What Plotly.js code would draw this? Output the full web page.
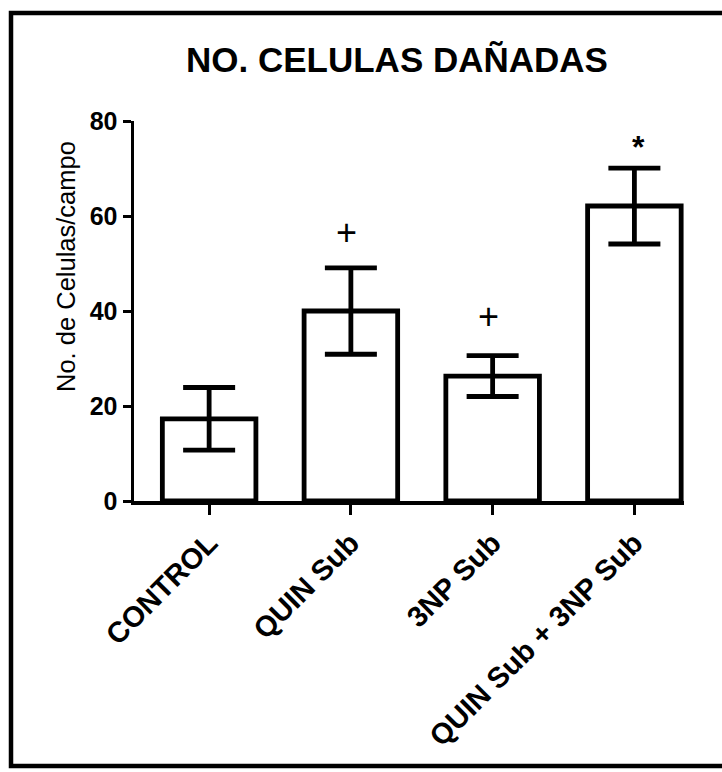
<!DOCTYPE html>
<html>
<head>
<meta charset="utf-8">
<script src="https://cdn.plot.ly/plotly-3.0.1.min.js"></script>
<style>
  html, body { margin: 0; padding: 0; background: #ffffff; }
  #chart { width: 722px; height: 772px; }
</style>
</head>
<body>
<div id="chart"></div>
<script>
// ---- data ----
const categories = ['CONTROL', 'QUIN Sub', '3NP Sub', 'QUIN Sub + 3NP Sub'];
const meanCells = [17.3, 40.0, 26.3, 62.1];
const semCells = [6.6, 9.1, 4.3, 8.0];
const sigLabels = ['', '+', '+', '*'];
const sigY = [null, 56.6, 38.8, 75.4];
const yTicks = [0, 20, 40, 60, 80];

const chartTitle = 'NO. CELULAS DAÑADAS';
const yTitle = 'No. de Celulas/campo';

// ---- layout geometry ----
const W = 722, H = 772;
const mL = 134, mR = 38, mT = 121, mB = 271;
const plotW = W - mL - mR, plotH = H - mT - mB;
const px2paperX = px => (px - mL) / plotW;
const px2paperY = py => (H - mB - py) / plotH;

const FONT = 'Liberation Sans, Arial, Helvetica, sans-serif';

const barTrace = {
  type: 'bar',
  x: categories,
  y: meanCells,
  marker: { color: '#ffffff', line: { color: '#000000', width: 4.8 } },
  error_y: { type: 'data', array: semCells, visible: true, color: '#000000', thickness: 4.8, width: 26 },
  hoverinfo: 'none',
  showlegend: false
};

const annotations = [];
categories.forEach((c, i) => {
  if (sigLabels[i]) {
    const isStar = sigLabels[i] === '*';
    annotations.push({
      x: c, y: sigY[i], xref: 'x', yref: 'y',
      text: sigLabels[i], showarrow: false,
      xanchor: 'center', yanchor: 'middle',
      xshift: isStar ? 4 : -4,
      yshift: isStar ? -4 : 0,
      font: { family: FONT, size: isStar ? 32 : 36, color: '#000000', weight: isStar ? 'bold' : 'normal' }
    });
  }
});
annotations.push({
  xref: 'paper', yref: 'paper',
  x: px2paperX(66), y: px2paperY(267),
  text: yTitle, textangle: -90, showarrow: false,
  xanchor: 'center', yanchor: 'middle',
  font: { family: FONT, size: 25.5, color: '#000000' }
});

const layout = {
  width: W, height: H,
  margin: { l: mL, r: mR, t: mT, b: mB, pad: 0 },
  paper_bgcolor: '#ffffff', plot_bgcolor: '#ffffff',
  bargap: 0.34,
  title: {
    text: chartTitle,
    x: 397 / W, xref: 'container', xanchor: 'center',
    y: 1 - 60 / H, yref: 'container', yanchor: 'middle',
    font: { family: FONT, size: 35, color: '#000000', weight: 'bold' }
  },
  xaxis: {
    type: 'category',
    range: [-0.53, 3.35],
    showline: true, linecolor: '#000000', linewidth: 3.5,
    ticks: 'outside', ticklen: 10, tickwidth: 3, tickcolor: '#000000',
    tickangle: -45,
    tickfont: { family: FONT, size: 29, color: '#000000', weight: 'bold' },
    showgrid: false, zeroline: false, fixedrange: true, automargin: false
  },
  yaxis: {
    range: [0, 80],
    tickvals: yTicks,
    ticktext: yTicks.map(String),
    showline: true, linecolor: '#000000', linewidth: 3.5,
    ticks: 'outside', ticklen: 8, tickwidth: 3, tickcolor: '#000000',
    tickfont: { family: FONT, size: 25, color: '#000000', weight: 'bold' },
    showgrid: false, zeroline: false, fixedrange: true, automargin: false
  },
  annotations: annotations,
  shapes: [{
    type: 'rect', xref: 'paper', yref: 'paper',
    x0: px2paperX(11), x1: px2paperX(760),
    y0: px2paperY(766), y1: px2paperY(13),
    line: { color: '#000000', width: 4.5 }, fillcolor: 'rgba(0,0,0,0)',
    layer: 'below'
  }]
};

Plotly.newPlot('chart', [barTrace], layout, { staticPlot: true, displayModeBar: false });
</script>
</body>
</html>
